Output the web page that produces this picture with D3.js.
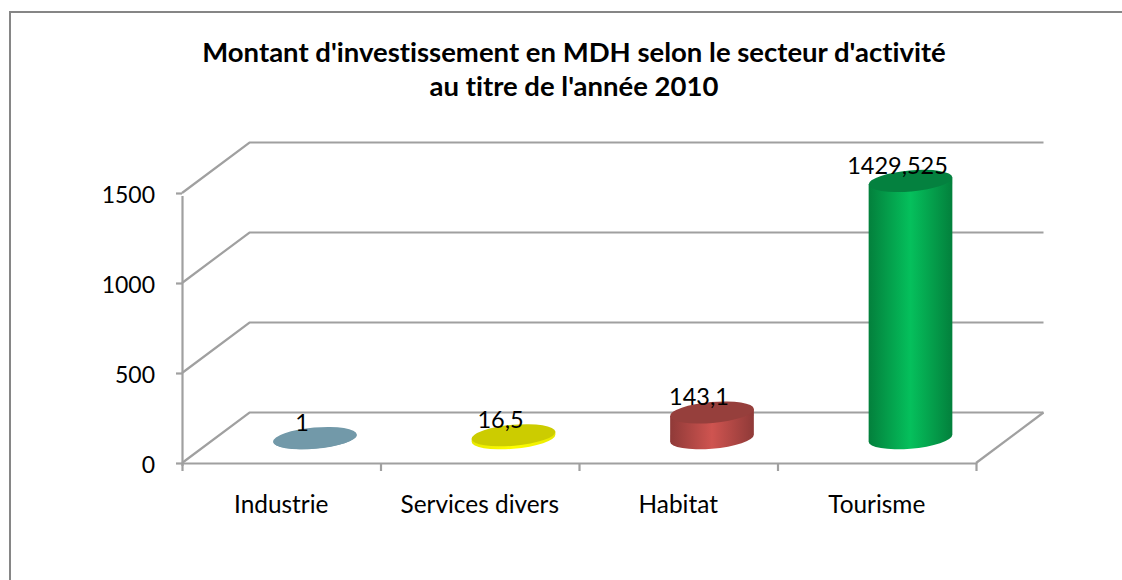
<!DOCTYPE html>
<html>
<head>
<meta charset="utf-8">
<script src="https://cdn.jsdelivr.net/npm/d3@7"></script>
<style>
  html, body { margin: 0; padding: 0; background: #fff; overflow: hidden; }
  text { font-family: Lato, "Open Sans", sans-serif; fill: #000; font-variant-ligatures: none; }
</style>
</head>
<body>
<div id="chart"></div>
<script>
const width = 1122;
const height = 580;

// Data ///////////////////////////////////////////
const titleLines = ["Montant d'investissement en MDH selon le secteur d'activité", "au titre de l'année 2010"];
const categories = ["Industrie", "Services divers", "Habitat", "Tourisme"];
const values = [1, 16.5, 143.1, 1429.525];
const valueLabels = ["1", "16,5", "143,1", "1429,525"];
const yTicks = [0, 500, 1000, 1500];

// Colors: top, side edge, side centre
const topColors = ["#7299a9", "#cccc00", "#963f3c", "#04813f"];
const edgeColors = ["#7299a9", "#e8e800", "#8f3a38", "#03803c"];
const midColors = ["#7299a9", "#ffff00", "#cf5450", "#05c05c"];

const svg = d3.select("#chart").append("svg").attr("width", width).attr("height", height);
const defs = svg.append("defs");

// Scales /////////////////////////////////////////
const depthX = 67.5;
const depthY = -50.5;
const x = d3.scaleBand().domain(categories).range([182, 976]);
const y = d3.scaleLinear().domain([0, 1500]).range([463, 193]);
const edgeScale = d3.scaleLinear().domain([0, categories.length]).range([182, 976]);

const gridColor = "#a0a0a0";

// Frame
svg.append("path")
  .attr("d", "M10,580V12H1122")
  .attr("fill", "none").attr("stroke", "#868686").attr("stroke-width", 2);

// Back wall and side wall lines
svg.append("g").selectAll("path").data(yTicks).enter().append("path")
  .attr("d", d => `M182,${y(d)}L${182 + depthX},${y(d) + depthY}H${976 + depthX}`)
  .attr("fill", "none").attr("stroke", gridColor).attr("stroke-width", 2.2);

// Floor edge on the right
svg.append("path")
  .attr("d", `M976,463L${976 + depthX},${463 + depthY}`)
  .attr("fill", "none").attr("stroke", gridColor).attr("stroke-width", 2.2);

// Axes ///////////////////////////////////////////
const styleAxis = size => g => {
  g.selectAll(".domain").attr("stroke", gridColor).attr("stroke-width", 2.2);
  g.selectAll(".tick line").attr("stroke", gridColor).attr("stroke-width", 2.2);
  g.selectAll("text").attr("font-size", size);
};

svg.append("g").attr("transform", "translate(182,2.5)")
  .call(d3.axisLeft(y).tickValues(yTicks).tickFormat(d3.format("d")).tickSize(6).tickSizeOuter(0).tickPadding(21))
  .call(styleAxis(23))
  .call(g => g.selectAll(".tick line").attr("y1", -2.5).attr("y2", -2.5));

svg.append("g").attr("transform", "translate(0,463)")
  .call(d3.axisBottom(edgeScale).tickValues(d3.range(categories.length + 1)).tickFormat("").tickSize(8).tickSizeOuter(0))
  .call(styleAxis(23));

svg.append("g").attr("transform", "translate(0,463)")
  .call(d3.axisBottom(x).tickSize(0).tickPadding(33))
  .call(g => g.select(".domain").remove())
  .call(styleAxis(24.4));

// Cylinders //////////////////////////////////////
const rx = 42;
const ry = 10.5;
const tilt = -5;
const a = tilt * Math.PI / 180;
const t0 = Math.atan2(-ry * Math.sin(a), rx * Math.cos(a));
const dx = rx * Math.cos(t0) * Math.cos(a) - ry * Math.sin(t0) * Math.sin(a);
const dy = rx * Math.cos(t0) * Math.sin(a) + ry * Math.sin(t0) * Math.cos(a);

const baseX = d => x(d) + x.bandwidth() / 2 + depthX / 2;
const baseY = y(0) + depthY / 2 + 0.5;
const barH = v => y(0) - y(v);

categories.forEach((c, i) => {
  const cx = baseX(c);
  const top = baseY - barH(values[i]);
  const id = "grad" + i;
  const grad = defs.append("linearGradient").attr("id", id);
  grad.append("stop").attr("offset", "0%").attr("stop-color", edgeColors[i]);
  grad.append("stop").attr("offset", "50%").attr("stop-color", midColors[i]);
  grad.append("stop").attr("offset", "100%").attr("stop-color", edgeColors[i]);

  svg.append("path")
    .attr("d", `M${cx - dx},${top - dy}L${cx + dx},${top + dy}L${cx + dx},${baseY + dy}` +
      `A${rx},${ry} ${tilt} 0 1 ${cx - dx},${baseY - dy}Z`)
    .attr("fill", `url(#${id})`);

  svg.append("ellipse")
    .attr("cx", cx).attr("cy", top)
    .attr("rx", rx).attr("ry", ry)
    .attr("transform", `rotate(${tilt} ${cx} ${top})`)
    .attr("fill", topColors[i]);

  svg.append("text")
    .attr("x", cx - 13).attr("y", top - 7)
    .attr("text-anchor", "middle").attr("font-size", 23.5)
    .text(valueLabels[i]);
});

// Title
svg.append("g").selectAll("text").data(titleLines).enter().append("text")
  .attr("x", 574).attr("y", (d, i) => 62 + i * 34)
  .attr("text-anchor", "middle").attr("font-size", 27.5).attr("font-weight", "bold")
  .text(d => d);
</script>
</body>
</html>
